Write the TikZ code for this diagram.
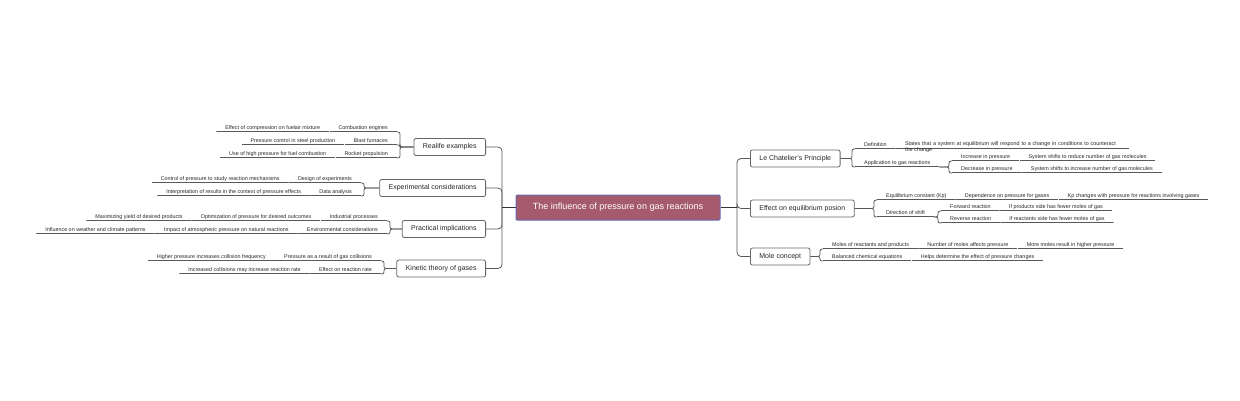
\documentclass[tikz,border=0pt]{standalone}
\usepackage{fontspec}
\setmainfont{Liberation Sans}
\begin{document}
\begin{tikzpicture}[x=1pt,y=-1pt,
  conn/.style={draw=black!65,line width=0.8pt},
  trunk/.style={draw=black!80,line width=1.3pt},
  main/.style={draw=black!60,line width=0.8pt,rounded corners=2pt,fill=white,font=\fontsize{7}{8}\selectfont,minimum height=17pt,inner xsep=9pt,text=black!85},
  leaf/.style={font=\fontsize{5.4}{6.2}\selectfont,inner xsep=9pt,inner ysep=1.6pt,text height=4pt,text depth=1pt,text=black!85,
    path picture={\draw[black!65,line width=1.6pt] (path picture bounding box.south west) -- (path picture bounding box.south east);}},
  rootn/.style={draw=black!50!blue!60,line width=1pt,fill=magenta!60!red!55!black!85,text=white,font=\fontsize{9}{10}\selectfont,minimum height=25pt,minimum width=204pt,rounded corners=1pt}]
\newcommand\bR[2]{\draw[conn,rounded corners=2pt] (#1) -| ([xshift=-3pt]#2.south west) -- (#2.south west);}
\newcommand\bL[2]{\draw[conn,rounded corners=2pt] (#1) -| ([xshift=3pt]#2.south east) -- (#2.south east);}
\useasboundingbox (0,0) rectangle (1240,400);
\node[rootn] (root) at (618,207.5) {The influence of pressure on gas reactions};
% left main
\node[main,anchor=east] (re) at (486,147) {Realife examples};
\node[main,anchor=east] (ex) at (486,188) {Experimental considerations};
\node[main,anchor=east] (pr) at (486,229) {Practical implications};
\node[main,anchor=east] (ki) at (486,268.5) {Kinetic theory of gases};
\foreach \m in {re,ex,pr,ki}{\draw[conn,rounded corners=4pt] (502,207.5) |- (\m.east);}
\draw[trunk] (root.west) -- (502,207.5);
% right main
\node[main,anchor=west] (lc) at (750,158.5) {Le Chatelier's Principle};
\node[main,anchor=west] (eq) at (750,208.5) {Effect on equilibrium posion};
\node[main,anchor=west] (mo) at (750,256.5) {Mole concept};
\foreach \m in {lc,eq,mo}{\draw[conn,rounded corners=4pt] (737,207.5) |- (\m.west);}
\draw[trunk] (root.east) -- (737,207.5);
% Realife
\node[leaf,anchor=south east] (r1) at (397,132) {Combustion engines};
\node[leaf,anchor=south east] (r1a) at (r1.south west) {Effect of compression on fuelair mixture};
\node[leaf,anchor=south east] (r2) at (397,145) {Blast furnaces};
\node[leaf,anchor=south east] (r2a) at (r2.south west) {Pressure control in steel production};
\node[leaf,anchor=south east] (r3) at (397,158) {Rocket propulsion};
\node[leaf,anchor=south east] (r3a) at (r3.south west) {Use of high pressure for fuel combustion};
\foreach \c in {r1,r2,r3}{\bL{re.west}{\c}}
% Experimental
\node[leaf,anchor=south east] (e1) at (361,183) {Design of experiments};
\node[leaf,anchor=south east] (e1a) at (e1.south west) {Control of pressure to study reaction mechanisms};
\node[leaf,anchor=south east] (e2) at (361,196) {Data analysis};
\node[leaf,anchor=south east] (e2a) at (e2.south west) {Interpretation of results in the context of pressure effects};
\foreach \c in {e1,e2}{\bL{ex.west}{\c}}
% Practical
\node[leaf,anchor=south east] (p1) at (387,221) {Industrial processes};
\node[leaf,anchor=south east] (p1a) at (p1.south west) {Optimization of pressure for desired outcomes};
\node[leaf,anchor=south east] (p1b) at (p1a.south west) {Maximizing yield of desired products};
\node[leaf,anchor=south east] (p2) at (387,234) {Environmental considerations};
\node[leaf,anchor=south east] (p2a) at (p2.south west) {Impact of atmospheric pressure on natural reactions};
\node[leaf,anchor=south east] (p2b) at (p2a.south west) {Influence on weather and climate patterns};
\foreach \c in {p1,p2}{\bL{pr.west}{\c}}
% Kinetic
\node[leaf,anchor=south east] (k1) at (381,261) {Pressure as a result of gas collisions};
\node[leaf,anchor=south east] (k1a) at (k1.south west) {Higher pressure increases collision frequency};
\node[leaf,anchor=south east] (k2) at (381,274) {Effect on reaction rate};
\node[leaf,anchor=south east] (k2a) at (k2.south west) {Increased collisions may increase reaction rate};
\foreach \c in {k1,k2}{\bL{ki.west}{\c}}
% Le Chatelier
\node[leaf,anchor=south west] (l1) at (855,149) {Definition};
\node[leaf,anchor=south west,text width=215pt,align=left,text height=,text depth=1.5pt] (l1a) at (l1.south east) {States that a system at equilibrium will respond to a change in conditions to counteract the change};
\node[leaf,anchor=south west] (l2) at (855,167) {Application to gas reactions};
\foreach \c in {l1,l2}{\bR{lc.east}{\c}}
\node[leaf,anchor=south west] (l21) at (952,161) {Increase in pressure};
\node[leaf,anchor=south west] (l21a) at (l21.south east) {System shifts to reduce number of gas molecules};
\node[leaf,anchor=south west] (l22) at (952,173) {Decrease in pressure};
\node[leaf,anchor=south west] (l22a) at (l22.south east) {System shifts to increase number of gas molecules};
\foreach \c in {l21,l22}{\bR{l2.south east}{\c}}
% Equilibrium
\node[leaf,anchor=south west] (q1) at (877,200) {Equilibrium constant (Kp)};
\node[leaf,anchor=south west] (q1a) at (q1.south east) {Dependence on pressure for gases};
\node[leaf,anchor=south west] (q1b) at (q1a.south east) {Kp changes with pressure for reactions involving gases};
\node[leaf,anchor=south west] (q2) at (877,217) {Direction of shift};
\foreach \c in {q1,q2}{\bR{eq.east}{\c}}
\node[leaf,anchor=south west] (q21) at (941,211) {Forward reaction};
\node[leaf,anchor=south west] (q21a) at (q21.south east) {If products side has fewer moles of gas};
\node[leaf,anchor=south west] (q22) at (941,223) {Reverse reaction};
\node[leaf,anchor=south west] (q22a) at (q22.south east) {If reactants side has fewer moles of gas};
\foreach \c in {q21,q22}{\bR{q2.south east}{\c}}
% Mole
\node[leaf,anchor=south west] (m1) at (823,249) {Moles of reactants and products};
\node[leaf,anchor=south west] (m1a) at (m1.south east) {Number of moles affects pressure};
\node[leaf,anchor=south west] (m1b) at (m1a.south east) {More moles result in higher pressure};
\node[leaf,anchor=south west] (m2) at (823,261) {Balanced chemical equations};
\node[leaf,anchor=south west] (m2a) at (m2.south east) {Helps determine the effect of pressure changes};
\foreach \c in {m1,m2}{\bR{mo.east}{\c}}
\end{tikzpicture}
\end{document}
